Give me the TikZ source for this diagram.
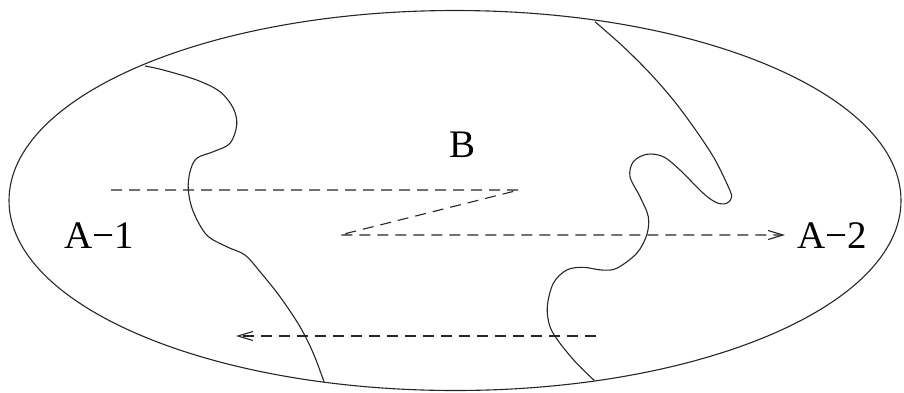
\documentclass[tikz,border=0pt]{standalone}
\usepackage{fontspec}
\setmainfont{Liberation Serif}
\usetikzlibrary{arrows.meta}
\begin{document}
\begin{tikzpicture}[x=1pt,y=-1pt,
  boundary/.style={draw, line width=1.1pt, color=black!85},
  dashline/.style={draw, line width=1.1pt, color=black!85, dash pattern=on 11pt off 7pt},
  barb/.style={-{Straight Barb[length=15pt,width=9pt]}},
  lbl/.style={font=\fontsize{39}{39}\selectfont, inner sep=0pt, anchor=base}]
\useasboundingbox (0,0) rectangle (904,392);
\draw[boundary] (455,200.5) ellipse [x radius=446pt, y radius=190pt];
% left region boundary
\draw[boundary] plot[smooth, tension=0.55] coordinates {
  (145,66) (163.3,70) (196.7,80) (220,91.7) (233.3,108.3) (236.7,125)
  (230,143.3) (213.3,151.7) (196.7,158.3) (190,171.7) (188.3,190)
  (193.3,211.7) (206.7,235) (226.7,246.7) (245,255) (260,271.7)
  (280,296.7) (300,326.7) (313.3,353.3) (324,381.7)};
% right region boundary
\draw[boundary] plot[smooth, tension=0.55] coordinates {
  (594.3,380.5) (576.7,363.3) (560,343.3) (550,326.7) (547.3,306.7)
  (553.3,283.3) (566.7,270) (583.3,267.3) (601.7,270) (616.7,268.3)
  (636.7,253.3) (646.7,235) (648.3,216.7) (640,196.7) (630,176.7)
  (633.3,161.7) (646.7,154.3) (663.3,156.7) (680,170) (703.3,193.3)
  (716.7,202.7) (726.7,203.3) (731.7,196.7) (726.7,183.3) (713.3,156.7)
  (693.3,126.7) (673.3,100) (650,73.3) (623.3,46.7) (595,21.7)};
% labels
\node[lbl] (a1) at (99.5,248) {A−1};
\node[lbl] (a2) at (832.5,248) {A−2};
\node[lbl] (b) at (462,157) {B};
% dashed paths
\coordinate (s1) at (111,190);
\coordinate (s2) at (519,190);
\coordinate (s3) at (340,235);
\coordinate (s4) at (785,235);
\draw[dashline, barb] (s1) -- (s2) -- (s3) -- (s4);
\coordinate (t1) at (596,336);
\coordinate (t2) at (236,336);
\draw[dashline, barb] (t1) -- (t2);
\end{tikzpicture}
\end{document}
